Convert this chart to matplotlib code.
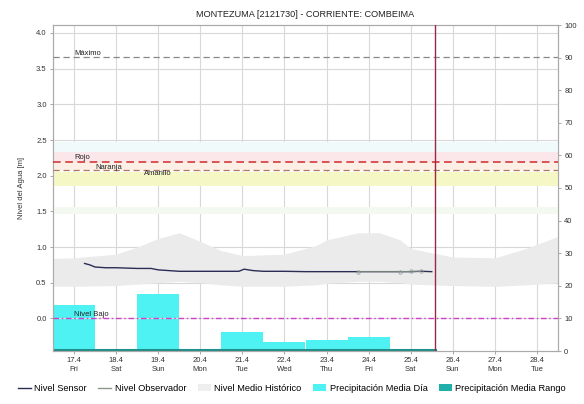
import numpy as np
import pandas as pd
import matplotlib
matplotlib.use("Agg")
import matplotlib.pyplot as plt
import matplotlib.dates as mdates
from matplotlib.patches import Patch
from matplotlib.lines import Line2D

plt.rcParams['font.family'] = ['Liberation Sans', 'DejaVu Sans']

title = "MONTEZUMA [2121730] - CORRIENTE: COMBEIMA"
ylabel_left = "Nivel del Agua [m]"

# x axis
tick_dates = ["2020-04-17", "2020-04-18", "2020-04-19", "2020-04-20", "2020-04-21", "2020-04-22",
              "2020-04-23", "2020-04-24", "2020-04-25", "2020-04-26", "2020-04-27", "2020-04-28"]
tick_labels = ["17.4\nFri", "18.4\nSat", "19.4\nSun", "20.4\nMon", "21.4\nTue", "22.4\nWed",
               "23.4\nThu", "24.4\nFri", "25.4\nSat", "26.4\nSun", "27.4\nMon", "28.4\nTue"]
x_start = "2020-04-16 12:00"
x_end = "2020-04-28 12:00"
now_time = "2020-04-25 14:00"

# Nivel Sensor (m)
sensor_times = ["2020-04-17 06:00", "2020-04-17 09:00", "2020-04-17 12:00", "2020-04-17 18:00",
                "2020-04-18 00:00", "2020-04-18 12:00", "2020-04-18 20:00", "2020-04-19 00:00",
                "2020-04-19 06:00", "2020-04-19 12:00", "2020-04-20 00:00", "2020-04-20 12:00",
                "2020-04-20 22:00", "2020-04-21 01:00", "2020-04-21 06:00", "2020-04-21 12:00",
                "2020-04-22 00:00", "2020-04-22 12:00", "2020-04-23 00:00", "2020-04-23 12:00",
                "2020-04-24 00:00", "2020-04-24 12:00", "2020-04-25 00:00", "2020-04-25 06:00",
                "2020-04-25 12:00"]
sensor_vals = [0.77, 0.75, 0.72, 0.71, 0.71, 0.70, 0.70, 0.68, 0.67, 0.66, 0.66, 0.66,
               0.66, 0.69, 0.67, 0.66, 0.66, 0.655, 0.655, 0.655, 0.655, 0.655, 0.655, 0.66,
               0.655]

# Nivel Observador (m)
obs_times = ["2020-04-23 18:00", "2020-04-24 18:00", "2020-04-25 00:00", "2020-04-25 06:00"]
obs_vals = [0.655, 0.655, 0.66, 0.66]

# Nivel Medio Historico envelope (m)
hist_times = ["2020-04-16 12:00", "2020-04-17 00:00", "2020-04-18 00:00", "2020-04-18 12:00",
              "2020-04-19 00:00", "2020-04-19 12:00", "2020-04-20 00:00", "2020-04-20 12:00",
              "2020-04-21 00:00", "2020-04-22 00:00", "2020-04-22 18:00", "2020-04-23 00:00",
              "2020-04-23 18:00", "2020-04-24 06:00", "2020-04-24 18:00", "2020-04-25 00:00",
              "2020-04-26 00:00", "2020-04-27 00:00", "2020-04-27 18:00", "2020-04-28 12:00"]
hist_high = [0.84, 0.85, 0.90, 1.00, 1.12, 1.20, 1.08, 0.95, 0.88, 0.90, 1.02, 1.10,
             1.20, 1.20, 1.10, 0.98, 0.86, 0.85, 0.98, 1.15]
hist_low = [0.45, 0.45, 0.46, 0.48, 0.50, 0.52, 0.50, 0.47, 0.45, 0.45, 0.47, 0.49,
            0.52, 0.52, 0.50, 0.48, 0.46, 0.45, 0.47, 0.50]

# Precipitacion media diaria (mm, right axis)
precip_days = ["2020-04-17", "2020-04-18", "2020-04-19", "2020-04-20", "2020-04-21",
               "2020-04-22", "2020-04-23", "2020-04-24", "2020-04-25"]
precip_vals = [14.0, 0.0, 17.5, 0.0, 5.8, 2.8, 3.4, 4.3, 0.0]

# Precipitacion media rango (mm, right axis)
prange_times = ["2020-04-16 12:00", "2020-04-25 14:00"]
prange_vals = [0.4, 0.4]

# reference levels (m)
level_max = 3.66
level_red = 2.19
level_orange = 2.08
level_low = 0.0
label_max = "Máximo"
label_red = "Rojo"
label_orange = "Naranja"
label_yellow = "Amarillo"
label_low = "Nivel Bajo"

left_ticks = [0.0, 0.5, 1.0, 1.5, 2.0, 2.5, 3.0, 3.5, 4.0]
right_ticks = [0, 10, 20, 30, 40, 50, 60, 70, 80, 90, 100]

legend_labels = ["Nivel Sensor", "Nivel Observador", "Nivel Medio Histórico",
                 "Precipitación Media Día", "Precipitación Media Rango"]

# ---------------------------------------------------------------
fig = plt.figure(figsize=(5.84, 4.04), dpi=100)
ax = fig.add_axes([53/584, 1-351/404, (558-53)/584, (351-25)/404])
ax2 = ax.twinx()
ax.set_zorder(ax2.get_zorder() + 1)
ax.patch.set_visible(False)

td = pd.to_datetime(tick_dates)
x0, x1 = pd.to_datetime(x_start), pd.to_datetime(x_end)

# right axis: precipitation
pdays = pd.to_datetime(precip_days)
ax2.bar(mdates.date2num(pdays), precip_vals, width=1.0, color="#4ff2f2", edgecolor="none",
        align="center", zorder=2)
ax2.plot(mdates.date2num(pd.to_datetime(prange_times)), prange_vals, color="#1f8f8a", lw=2.2,
         zorder=3)
ax2.set_ylim(0, 100)
ax2.set_yticks(right_ticks)
ax2.set_yticklabels([str(t) for t in right_ticks], fontsize=5.5, color="#333333")

# left axis
ax.set_xlim(mdates.date2num(x0), mdates.date2num(x1))
ax.set_ylim(-0.457, 4.112)
ax.set_yticks(left_ticks)
ax.set_yticklabels([f"{t:.1f}" for t in left_ticks], fontsize=5.5, color="#333333")
ax.set_xticks(mdates.date2num(td))
ax.set_xticklabels(tick_labels, fontsize=5.5, color="#333333", linespacing=1.3)
ax.set_ylabel(ylabel_left, fontsize=5.5, color="#333333", labelpad=8)

# grid on background axis
ax2.set_xticks(mdates.date2num(td))
for t in mdates.date2num(td):
    ax2.axvline(t, color="#d8d8d8", lw=0.8, zorder=0)
for v in left_ticks:
    ax.axhline(v, color="#d8d8d8", lw=0.8, zorder=0)

# colored alert bands
ax.axhspan(level_red, level_red + 0.14, color="#fbe6e9", zorder=0.5, lw=0)
ax.axhspan(level_red + 0.14, level_red + 0.28, color="#f0fafa", zorder=0.5, lw=0)
ax.axhspan(level_orange, level_red, color="#fcf0e6", zorder=0.5, lw=0)
ax.axhspan(1.86, 2.05, color="#f5f7c4", zorder=0.5, lw=0)
ax.axhspan(1.47, 1.56, color="#f3f9f0", zorder=0.5, lw=0)

# historical area
ht = mdates.date2num(pd.to_datetime(hist_times))
ax.fill_between(ht, hist_low, hist_high, color="#ebebeb", lw=0, zorder=1)

# reference lines
ax.axhline(level_max, color="#888888", lw=0.9, ls=(0, (5, 3)), zorder=3)
ax.axhline(level_red, color="#d02a2a", lw=1.1, ls=(0, (5, 3)), zorder=3)
ax.axhline(level_orange, color="#b0785a", lw=0.9, ls=(0, (5, 3)), zorder=3)
ax.axhline(level_low, color="#d040c8", lw=1.0, ls=(0, (4, 2, 1, 2)), zorder=3)

def lbl(xd, y, s):
    ax.text(mdates.date2num(pd.to_datetime(xd)), y, s, fontsize=5.5, color="#222222",
            ha="left", va="bottom", zorder=6)

lbl("2020-04-17 00:00", level_max + 0.01, label_max)
lbl("2020-04-17 00:00", level_red + 0.01, label_red)
lbl("2020-04-17 12:00", level_orange - 0.02, label_orange)
lbl("2020-04-18 16:00", 1.98, label_yellow)
lbl("2020-04-17 00:00", level_low + 0.01, label_low)

# level series
ax.plot(mdates.date2num(pd.to_datetime(sensor_times)), sensor_vals, color="#2a2d55", lw=1.0,
        zorder=5)
ax.plot(mdates.date2num(pd.to_datetime(obs_times)), obs_vals, color="#8a9a8a", lw=0.6,
        marker="o", ms=2.5, mfc="none", mew=0.5, zorder=5)

# now line
ax.axvline(mdates.date2num(pd.to_datetime(now_time)), color="#9c2848", lw=1.0, zorder=6)

for a in (ax, ax2):
    for s in a.spines.values():
        s.set_color("#aaaaaa")
        s.set_linewidth(0.8)
    a.tick_params(length=2.5, width=0.6, color="#999999", pad=2)

ax.set_title(title, fontsize=6.6, color="#222222", pad=6)

handles = [Line2D([], [], color="#2a2d55", lw=1.0),
           Line2D([], [], color="#8a9a8a", lw=1.0),
           Patch(facecolor="#eeeeee", edgecolor="none"),
           Patch(facecolor="#4ff2f2", edgecolor="none"),
           Patch(facecolor="#1fb0aa", edgecolor="none")]
fig.legend(handles, legend_labels, loc="lower left", bbox_to_anchor=(14/584, 0.018), ncol=5,
           fontsize=6.7, frameon=False, handlelength=1.4, handletextpad=0.4,
           columnspacing=1.2, borderaxespad=0)

fig.savefig("out.png", dpi=100)
